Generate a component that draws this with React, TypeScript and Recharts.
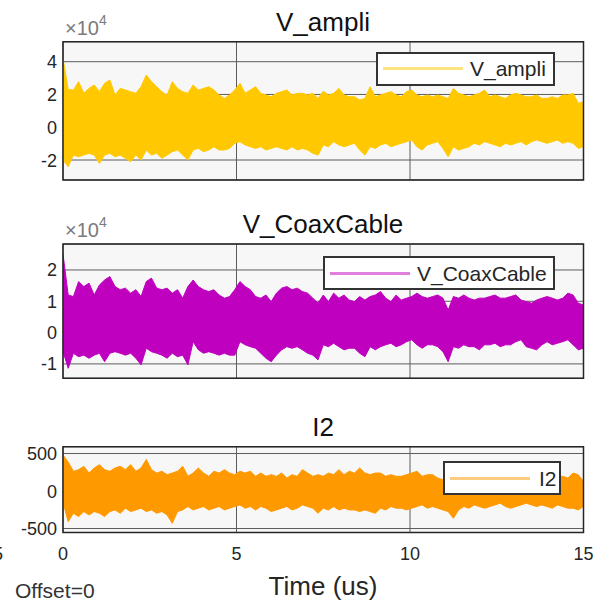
import { AreaChart, Area, XAxis, YAxis, CartesianGrid, ReferenceArea, Legend } from 'recharts';

const FONT = '"Liberation Sans", Arial, Helvetica, sans-serif';

// envelope of each trace, sampled every 0.15 us from 0 to 15 us
// V_ampli in units of 1e4
const vAmpliHi = [
  4.2, 2.3, 2.27, 2.78, 2.07, 2.37, 2.58, 2.17, 2.68, 2.88,
  1.97, 2.37, 2.27, 2.17, 2.07, 2.47, 3.19, 2.78, 2.47, 2.17,
  1.97, 2.78, 2.37, 2.17, 2.07, 2.58, 2.27, 2.37, 2.47, 2.27,
  1.97, 1.76, 1.97, 2.27, 2.68, 2.07, 2.27, 2.47, 2.07, 1.97,
  1.86, 2.07, 2.17, 2.27, 1.97, 2.07, 2.07, 1.97, 2.07, 1.76,
  2.2, 1.97, 2.07, 2.37, 1.97, 1.86, 1.86, 1.66, 1.76, 2.47,
  1.86, 1.97, 2.07, 2.17, 1.97, 1.86, 2.17, 2.27, 1.97, 1.86,
  1.97, 1.86, 1.97, 1.86, 1.76, 2.37, 2.07, 1.97, 1.86, 1.97,
  2.07, 2.27, 1.86, 1.97, 1.86, 1.76, 1.97, 2.07, 1.97, 1.86,
  1.86, 1.97, 1.76, 1.76, 1.86, 1.76, 1.97, 1.97, 2.07, 1.46, 1.56,
];
const vAmpliLo = [
  -2.0, -2.41, -1.7, -1.8, -1.7, -1.59, -1.7, -2.21, -1.7, -1.59,
  -1.8, -1.7, -1.9, -2.1, -1.7, -2.0, -1.39, -1.7, -1.59, -1.9,
  -1.7, -1.49, -1.39, -1.7, -2.0, -1.39, -1.29, -1.49, -1.39, -1.19,
  -1.39, -1.39, -1.29, -0.98, -0.88, -1.08, -1.19, -1.29, -1.19, -1.39,
  -1.29, -1.19, -1.29, -1.39, -1.19, -1.39, -1.29, -1.39, -1.59, -1.7,
  -1.08, -1.19, -0.88, -1.08, -1.19, -1.08, -0.98, -1.39, -1.7, -1.19,
  -1.29, -1.08, -0.98, -1.19, -1.08, -0.98, -0.88, -0.78, -1.19, -1.39,
  -1.08, -0.98, -0.88, -1.29, -1.8, -1.19, -1.39, -1.29, -1.19, -0.98,
  -1.08, -0.88, -0.98, -1.08, -1.19, -0.98, -1.08, -0.98, -0.88, -1.08,
  -0.88, -0.78, -0.88, -0.98, -0.88, -0.78, -0.98, -0.88, -0.98, -1.29, -1.19,
];

// V_CoaxCable in units of 1e4
const vCoaxHi = [
  2.5, 1.2, 1.15, 1.63, 1.47, 1.58, 1.2, 1.52, 1.68, 1.79,
  1.47, 1.37, 1.42, 1.26, 1.37, 1.15, 1.63, 1.74, 1.42, 1.37,
  1.42, 1.26, 1.37, 1.1, 1.47, 1.68, 1.47, 1.37, 1.31, 1.37,
  1.2, 1.1, 1.15, 1.37, 1.63, 1.47, 1.37, 1.15, 1.1, 1.2,
  0.99, 1.26, 1.42, 1.47, 1.37, 1.42, 1.31, 1.26, 1.1, 0.94,
  1.2, 0.99, 1.26, 1.1, 1.2, 1.04, 0.99, 1.15, 1.04, 1.15,
  1.2, 1.31, 1.1, 0.99, 1.2, 1.04, 1.1, 1.15, 1.26, 1.15,
  1.1, 1.15, 1.2, 1.1, 0.72, 1.15, 1.1, 1.2, 1.1, 1.04,
  1.1, 1.1, 1.15, 1.2, 1.1, 1.1, 1.15, 1.2, 1.04, 0.99,
  0.94, 1.04, 1.1, 1.15, 1.1, 1.04, 1.1, 1.26, 1.2, 0.94, 0.88,
];
const vCoaxLo = [
  -0.6, -1.14, -0.66, -0.77, -0.72, -0.82, -0.72, -0.66, -0.93, -0.66,
  -0.61, -0.66, -0.72, -0.66, -0.82, -1.03, -0.5, -0.61, -0.66, -0.72,
  -0.82, -0.66, -0.77, -0.72, -1.03, -0.29, -0.55, -0.66, -0.61, -0.66,
  -0.72, -0.66, -0.72, -0.72, -0.29, -0.39, -0.45, -0.5, -0.66, -0.82,
  -0.93, -0.72, -0.55, -0.45, -0.5, -0.45, -0.55, -0.66, -0.72, -0.87,
  -0.39, -0.45, -0.34, -0.45, -0.55, -0.5, -0.5, -0.66, -0.77, -0.45,
  -0.55, -0.45, -0.39, -0.34, -0.45, -0.39, -0.29, -0.23, -0.39, -0.5,
  -0.39, -0.39, -0.45, -0.61, -0.93, -0.45, -0.5, -0.39, -0.45, -0.45,
  -0.55, -0.39, -0.39, -0.34, -0.45, -0.39, -0.39, -0.29, -0.23, -0.45,
  -0.5, -0.55, -0.39, -0.29, -0.39, -0.34, -0.29, -0.23, -0.39, -0.55, -0.5,
];

// I2
const i2Hi = [
  480, 386, 263, 285, 330, 240, 307, 352, 285, 263,
  307, 330, 285, 352, 263, 307, 420, 285, 240, 263,
  218, 240, 263, 330, 196, 240, 307, 240, 196, 263,
  240, 285, 240, 218, 263, 240, 263, 196, 240, 196,
  218, 196, 240, 173, 218, 196, 285, 240, 196, 218,
  196, 240, 218, 285, 218, 263, 240, 307, 240, 218,
  240, 240, 196, 218, 196, 196, 218, 240, 263, 196,
  218, 218, 173, 151, 196, 218, 173, 240, 196, 218,
  173, 196, 240, 196, 218, 173, 196, 218, 196, 240,
  196, 173, 218, 196, 218, 196, 196, 173, 240, 218, 128,
];
const i2Lo = [
  -150, -408, -296, -341, -274, -319, -274, -296, -341, -274,
  -252, -296, -229, -274, -252, -229, -274, -252, -296, -274,
  -319, -431, -274, -252, -207, -252, -229, -207, -252, -229,
  -207, -252, -229, -207, -185, -229, -207, -252, -207, -229,
  -274, -252, -229, -207, -252, -229, -185, -207, -229, -296,
  -229, -252, -207, -252, -229, -252, -252, -274, -252, -274,
  -296, -229, -252, -207, -229, -229, -252, -229, -207, -185,
  -229, -207, -229, -252, -274, -363, -252, -207, -229, -185,
  -207, -229, -207, -185, -162, -207, -229, -207, -185, -162,
  -185, -207, -185, -207, -229, -185, -207, -229, -229, -252, -207,
];

const timeTicks = [0, 5, 10, 15];
const ampliTicks = [-2, 0, 2, 4];
const coaxTicks = [-1, 0, 1, 2];
const i2Ticks = [-500, 0, 500];

const toRows = (hi: number[], lo: number[]) =>
  hi.map((h, i) => ({ t: i * 0.15, range: [lo[i], h] }));

const YTick = (props: any) => (
  <text x={props.x} y={props.y} dy={6.5} textAnchor="end" fontSize={18} fill="#262626" fontFamily={FONT}>
    {props.payload.value}
  </text>
);

const XTick = (props: any) => (
  <text x={props.x} y={props.y} dy={27.5} textAnchor="middle" fontSize={18} fill="#262626" fontFamily={FONT}>
    {props.payload.value}
  </text>
);

const legendBox = (width: number, gap: number) => (props: any) => {
  const item = props.payload && props.payload[0];
  if (!item) return null;
  return (
    <div
      style={{
        width,
        height: 34,
        boxSizing: 'border-box',
        border: '2px solid #333',
        background: '#fff',
        display: 'flex',
        alignItems: 'center',
        fontFamily: FONT,
      }}
    >
      <span style={{ marginLeft: 5, width: 80, height: 3, background: item.color, opacity: 0.5 }} />
      <span style={{ marginLeft: gap, fontSize: 21, color: '#262626', lineHeight: '21px' }}>{item.value}</span>
    </div>
  );
};

interface PanelProps {
  data: { t: number; range: number[] }[];
  name: string;
  color: string;
  domain: [number, number];
  ticks: number[];
  top: number;
  height: number;
  marginTop: number;
  marginBottom: number;
  showTime?: boolean;
  legend: { left: number; top: number; width: number; gap: number };
}

const Panel = ({ data, name, color, domain, ticks, top, height, marginTop, marginBottom, showTime, legend }: PanelProps) => (
  <div style={{ position: 'absolute', left: 0, top }}>
    <AreaChart width={605} height={height} data={data} margin={{ top: marginTop, right: 21.5, bottom: marginBottom, left: 0 }}>
      <CartesianGrid stroke="#5c5c5c" fill="#f7f7f7" fillOpacity={1} />
      <XAxis
        dataKey="t"
        type="number"
        domain={[0, 15]}
        ticks={timeTicks}
        allowDataOverflow
        hide={!showTime}
        height={showTime ? 40 : 0}
        axisLine={false}
        tickLine={false}
        tickSize={0}
        tickMargin={0}
        tick={XTick}
      />
      <YAxis
        type="number"
        domain={domain}
        ticks={ticks}
        allowDataOverflow
        width={63}
        axisLine={false}
        tickLine={false}
        tickSize={0}
        tickMargin={6}
        tick={YTick}
      />
      <Area
        type="linear"
        dataKey="range"
        name={name}
        stroke={color}
        strokeWidth={1}
        fill={color}
        fillOpacity={1}
        dot={false}
        activeDot={false}
        isAnimationActive={false}
      />
      <ReferenceArea x1={0} x2={15} y1={domain[0]} y2={domain[1]} fill="none" stroke="#262626" strokeWidth={1.5} />
      <Legend
        layout="vertical"
        align="center"
        verticalAlign="middle"
        wrapperStyle={{ left: legend.left, top: legend.top, width: legend.width }}
        content={legendBox(legend.width, legend.gap)}
      />
    </AreaChart>
  </div>
);

export default function App() {
  return (
    <div style={{ position: 'absolute', left: 0, top: 0, width: 605, height: 604, background: '#fff', overflow: 'hidden' }}>
      <Panel
        data={toRows(vAmpliHi, vAmpliLo)}
        name="V_ampli"
        color="#ffc800"
        domain={[-3.22, 5.22]}
        ticks={ampliTicks}
        top={0}
        height={200}
        marginTop={41.7}
        marginBottom={20}
        legend={{ left: 376, top: 51.7, width: 179, gap: 7 }}
      />
      <Panel
        data={toRows(vCoaxHi, vCoaxLo)}
        name="V_CoaxCable"
        color="#bf00bf"
        domain={[-1.46, 2.83]}
        ticks={coaxTicks}
        top={200}
        height={200}
        marginTop={44}
        marginBottom={21.7}
        legend={{ left: 323, top: 56, width: 232, gap: 7 }}
      />
      <Panel
        data={toRows(i2Hi, i2Lo)}
        name="I2"
        color="#ff9900"
        domain={[-553, 591]}
        ticks={i2Ticks}
        top={400}
        height={204}
        marginTop={46.7}
        marginBottom={31.5}
        showTime
        legend={{ left: 443, top: 61, width: 118, gap: 9 }}
      />
      <svg width={605} height={604} style={{ position: 'absolute', left: 0, top: 0, pointerEvents: 'none' }} fontFamily={FONT}>
        <text x={323} y={30.7} textAnchor="middle" fontSize={26} fill="#111">V_ampli</text>
        <text x={323} y={233} textAnchor="middle" fontSize={26} fill="#111">V_CoaxCable</text>
        <text x={323} y={435.5} textAnchor="middle" fontSize={26} fill="#111">I2</text>
        <text x={65} y={35} fontSize={20} fill="#7a7a7a">
          ×10<tspan fontSize={14} dy={-10}>4</tspan>
        </text>
        <text x={65} y={237} fontSize={20} fill="#7a7a7a">
          ×10<tspan fontSize={14} dy={-10}>4</tspan>
        </text>
        <text x={323} y={595} textAnchor="middle" fontSize={26} fill="#262626">Time (us)</text>
        <text x={15} y={598} fontSize={21} fill="#333">Offset=0</text>
        <text x={3} y={560} textAnchor="end" fontSize={18} fill="#262626">5</text>
      </svg>
    </div>
  );
}
